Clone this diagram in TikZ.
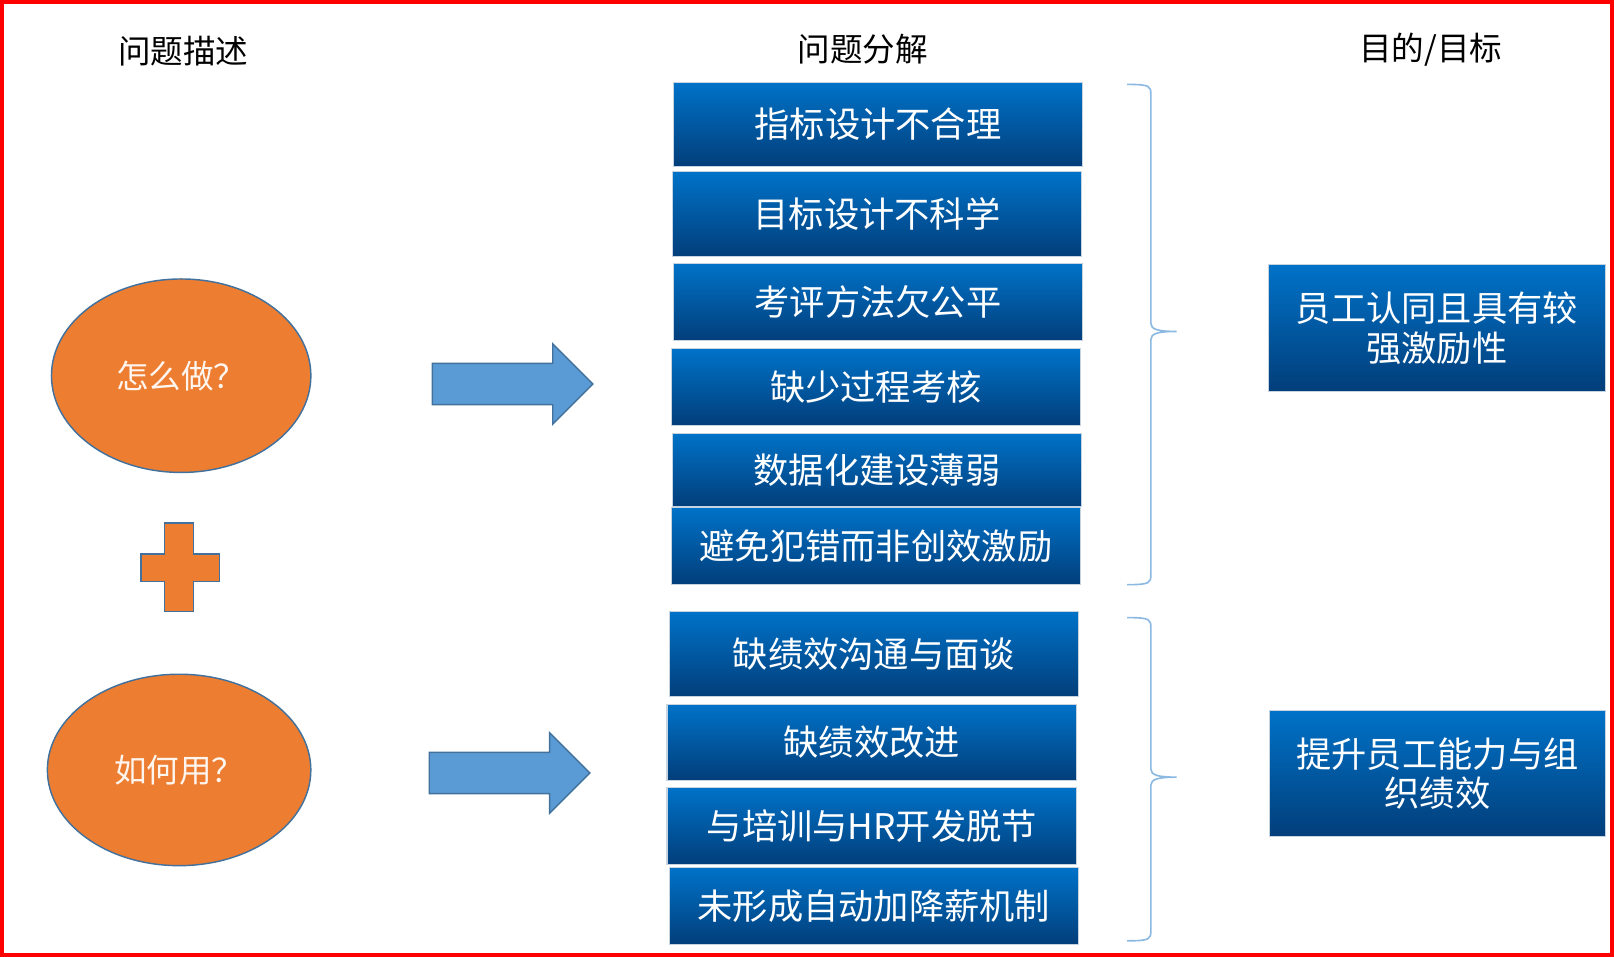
\documentclass[tikz,border=0pt]{standalone}
\usepackage{fontspec}
\setmainfont{Noto Sans CJK SC}
\usetikzlibrary{shapes.geometric,decorations.pathreplacing}
\definecolor{boxtop}{HTML}{0072C8}
\definecolor{boxbot}{HTML}{023E7A}
\definecolor{orng}{HTML}{ED7D31}
\definecolor{edgeb}{HTML}{41719C}
\definecolor{arrf}{HTML}{5B9BD5}
\begin{document}
\begin{tikzpicture}[x=0.02cm,y=-0.02cm,
  hdr/.style={font=\fontsize{18}{20}\selectfont, text=black},
  pbox/.style={draw=white!70!edgeb, line width=0.6pt, top color=boxtop, bottom color=boxbot, text=white, font=\fontsize{19.5}{22}\selectfont, align=center, inner sep=0pt},
  ell/.style={ellipse, draw=edgeb, fill=orng, line width=0.8pt, text=white!92!orng, font=\fontsize{18}{20}\selectfont, inner sep=0pt},
  blk/.style={draw=edgeb, fill=arrf, line width=0.8pt},
  brc/.style={draw=arrf!70, line width=0.9pt}]
\useasboundingbox (0,0) rectangle (1568,929);
\draw[red, line width=2.4pt] (1.5,1.5) rectangle (1566.5,927.5);
\node[hdr] (h1) at (178,50) {问题描述};
\node[hdr] (h2) at (838,48) {问题分解};
\node[hdr] (h3) at (1390,48) {目的/目标};
\node[ell, minimum width=252\pgflinewidth/\pgflinewidth*0.02cm, minimum height=3.76cm] (e1) at (176,365) {怎么做？};
\node[ell, minimum width=5.12cm, minimum height=3.72cm] (e2) at (174,748) {如何用？};
\draw[blk] (160,508) -- (188,508) -- (188,538) -- (213,538) -- (213,565) -- (188,565) -- (188,594) -- (160,594) -- (160,565) -- (137,565) -- (137,538) -- (160,538) -- cycle;
\draw[blk, fill=orng] (160,508) -- (188,508) -- (188,538) -- (213,538) -- (213,565) -- (188,565) -- (188,594) -- (160,594) -- (160,565) -- (137,565) -- (137,538) -- (160,538) -- cycle;
\draw[blk] (420,353) -- (537,353) -- (537,334) -- (576,373) -- (537,412) -- (537,393) -- (420,393) -- cycle;
\draw[blk] (417,731) -- (534,731) -- (534,712) -- (573,751) -- (534,790) -- (534,771) -- (417,771) -- cycle;
\newcommand{\pb}[6]{\node[pbox, minimum width={(#3-#2)*0.02cm}, minimum height={(#5-#4)*0.02cm}] (#1) at ({(#2+#3)/2},{(#4+#5)/2}) {#6};}
\pb{b1}{654}{1052}{80}{162}{指标设计不合理}
\pb{b2}{653}{1051}{167}{249}{目标设计不科学}
\pb{b3}{654}{1052}{256}{331}{考评方法欠公平}
\pb{b4}{652}{1050}{339}{413}{缺少过程考核}
\pb{b5}{653}{1051}{421}{492}{数据化建设薄弱}
\pb{b6}{652}{1050}{493}{568}{避免犯错而非创效激励}
\pb{b7}{650}{1048}{594}{677}{缺绩效沟通与面谈}
\pb{b8}{648}{1046}{684}{758}{缺绩效改进}
\pb{b9}{648}{1046}{765}{840}{与培训与HR开发脱节}
\pb{b10}{650}{1048}{843}{918}{未形成自动加降薪机制}
\pb{g1}{1232}{1560}{257}{380}{员工认同且具有较\\强激励性}
\pb{g2}{1233}{1560}{690}{813}{提升员工能力与组\\织绩效}
\draw[brc] (1095,82) .. controls (1118,82) and (1118,84) .. (1118,92) -- (1118,314) .. controls (1118,320) and (1125,322) .. (1143,322) .. controls (1125,322) and (1118,324) .. (1118,330) -- (1118,558) .. controls (1118,566) and (1118,568) .. (1095,568);
\draw[brc] (1095,600) .. controls (1118,600) and (1118,602) .. (1118,610) -- (1118,747) .. controls (1118,753) and (1125,755) .. (1143,755) .. controls (1125,755) and (1118,757) .. (1118,763) -- (1118,904) .. controls (1118,912) and (1118,914) .. (1095,914);
\end{tikzpicture}
\end{document}
